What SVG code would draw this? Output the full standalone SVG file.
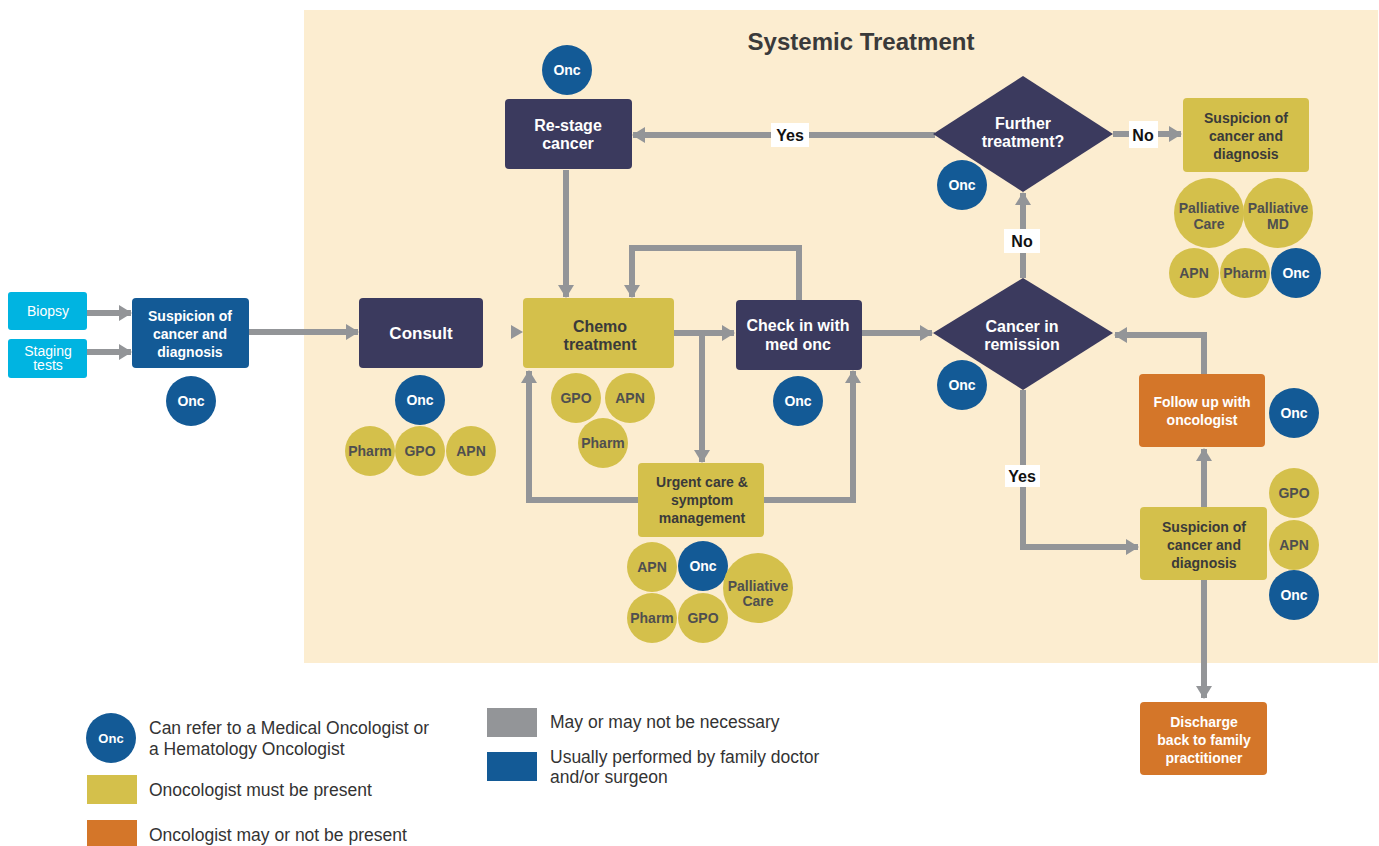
<svg xmlns="http://www.w3.org/2000/svg" width="1379" height="846" viewBox="0 0 1379 846">
<defs>
<style>
.bg{fill:#fcedd0}
.navy{fill:#3b3a5e}
.blue{fill:#135a96}
.yel{fill:#d4c04b}
.org{fill:#d47629}
.cyan{fill:#00b4e1}
.gray{fill:#939598}
.conn{fill:none;stroke:#939598;stroke-width:6;marker-end:url(#ah)}
.t{font-family:"Liberation Sans",Arial,sans-serif;font-weight:bold;text-anchor:middle}
.n{font-weight:normal}
.w{fill:#ffffff}
.d{fill:#3a3a3a}
.c{fill:#4f4f4f}
.lab{fill:#ffffff}
.leg{font-family:"Liberation Sans",Arial,sans-serif;font-size:17.5px;fill:#333333}
</style>
<marker id="ah" markerUnits="userSpaceOnUse" markerWidth="13" markerHeight="16" viewBox="0 0 13 16" refX="12" refY="8" orient="auto">
<path d="M0,0 L13,8 L0,16 Z" fill="#939598"/>
</marker>
</defs>
<rect width="1379" height="846" fill="#ffffff"/>
<rect class="bg" x="304" y="10" width="1074" height="653"/>
<text class="t" x="861" y="50" font-size="24" fill="#3a3a3a">Systemic Treatment</text>

<g id="connectors">
<path class="conn" d="M87,313 H131"/>
<path class="conn" d="M87,352 H131"/>
<path class="conn" d="M249,332 H358"/>
<polygon points="511,325 523,332 511,339" fill="#939598"/>
<path class="conn" d="M674,333 H734"/>
<path class="conn" d="M702,333 V462"/>
<path class="conn" d="M638,500 H529 V371"/>
<path class="conn" d="M764,500 H853 V371"/>
<path class="conn" d="M799,300 V248 H632 V297"/>
<path class="conn" d="M566,170 V297"/>
<path class="conn" d="M935,135 H633"/>
<path class="conn" d="M1113,134 H1181"/>
<path class="conn" d="M1023,278 V193"/>
<path class="conn" d="M862,333 H932"/>
<path class="conn" d="M1023,390 V547 H1138"/>
<path class="conn" d="M1204,374 V335 H1115"/>
<path class="conn" d="M1204,507 V449"/>
<path class="conn" d="M1204,580 V698"/>
<rect class="lab" x="771" y="123" width="38" height="24"/>
<text class="t" x="790" y="141" font-size="16" fill="#111">Yes</text>
<rect class="lab" x="1129" y="121" width="29" height="27"/>
<text class="t" x="1143" y="141" font-size="16" fill="#111">No</text>
<rect class="lab" x="1004" y="229" width="36" height="24"/>
<text class="t" x="1022" y="247" font-size="16" fill="#111">No</text>
<rect class="lab" x="1005" y="465" width="35" height="22"/>
<text class="t" x="1022" y="482" font-size="16" fill="#111">Yes</text>
</g>

<g id="biopsy">
<rect class="cyan" x="8" y="292" width="79" height="38" rx="3"/>
<text class="t n w" x="48" y="316" font-size="14">Biopsy</text>
</g>
<g id="staging">
<rect class="cyan" x="8" y="339" width="79" height="39" rx="3"/>
<text class="t n w" x="48" y="356" font-size="14">Staging</text>
<text class="t n w" x="48" y="370" font-size="14">tests</text>
</g>
<g id="suspicion1">
<rect class="blue" x="132" y="298" width="117" height="70" rx="4"/>
<text class="t w" x="190" y="321" font-size="14">Suspicion of</text>
<text class="t w" x="190" y="339" font-size="14">cancer and</text>
<text class="t w" x="190" y="357" font-size="14">diagnosis</text>
<circle class="blue" cx="191" cy="401" r="25"/>
<text class="t w" x="191" y="406" font-size="14">Onc</text>
</g>
<g id="consult">
<rect class="navy" x="359" y="298" width="124" height="70" rx="4"/>
<text class="t w" x="421" y="339" font-size="17">Consult</text>
<circle class="blue" cx="420" cy="400" r="25"/>
<text class="t w" x="420" y="405" font-size="14">Onc</text>
<circle class="yel" cx="370" cy="451" r="25"/>
<text class="t c" x="370" y="456" font-size="14">Pharm</text>
<circle class="yel" cx="420" cy="451" r="25"/>
<text class="t c" x="420" y="456" font-size="14">GPO</text>
<circle class="yel" cx="471" cy="451" r="25"/>
<text class="t c" x="471" y="456" font-size="14">APN</text>
</g>
<g id="chemo">
<rect class="yel" x="523" y="298" width="151" height="70" rx="4"/>
<text class="t d" x="600" y="332" font-size="16">Chemo</text>
<text class="t d" x="600" y="350" font-size="16">treatment</text>
<circle class="yel" cx="576" cy="398" r="25"/>
<text class="t c" x="576" y="403" font-size="14">GPO</text>
<circle class="yel" cx="630" cy="398" r="25"/>
<text class="t c" x="630" y="403" font-size="14">APN</text>
<circle class="yel" cx="603" cy="443" r="25"/>
<text class="t c" x="603" y="448" font-size="14">Pharm</text>
</g>
<g id="checkin">
<rect class="navy" x="736" y="300" width="126" height="70" rx="4"/>
<text class="t w" x="798" y="331" font-size="16">Check in with</text>
<text class="t w" x="798" y="350" font-size="16">med onc</text>
<circle class="blue" cx="798" cy="401" r="25"/>
<text class="t w" x="798" y="406" font-size="14">Onc</text>
</g>
<g id="urgent">
<rect class="yel" x="638" y="463" width="126" height="74" rx="4"/>
<text class="t d" x="702" y="487" font-size="14">Urgent care &amp;</text>
<text class="t d" x="702" y="505" font-size="14">symptom</text>
<text class="t d" x="702" y="523" font-size="14">management</text>
<circle class="yel" cx="652" cy="567" r="25"/>
<text class="t c" x="652" y="572" font-size="14">APN</text>
<circle class="blue" cx="703" cy="566" r="25"/>
<text class="t w" x="703" y="571" font-size="14">Onc</text>
<circle class="yel" cx="652" cy="618" r="25"/>
<text class="t c" x="652" y="623" font-size="14">Pharm</text>
<circle class="yel" cx="703" cy="618" r="25"/>
<text class="t c" x="703" y="623" font-size="14">GPO</text>
<circle class="yel" cx="758" cy="588" r="35"/>
<text class="t c" x="758" y="591" font-size="14">Palliative</text>
<text class="t c" x="758" y="606" font-size="14">Care</text>
</g>
<g id="restage">
<rect class="navy" x="505" y="99" width="127" height="70" rx="4"/>
<text class="t w" x="568" y="131" font-size="16">Re-stage</text>
<text class="t w" x="568" y="149" font-size="16">cancer</text>
<circle class="blue" cx="567" cy="70" r="25"/>
<text class="t w" x="567" y="75" font-size="14">Onc</text>
</g>
<g id="further">
<polygon class="navy" points="1023,76 1113,134 1023,192 933,134"/>
<text class="t w" x="1023" y="129" font-size="16">Further</text>
<text class="t w" x="1023" y="147" font-size="16">treatment?</text>
<circle class="blue" cx="962" cy="185" r="25"/>
<text class="t w" x="962" y="190" font-size="14">Onc</text>
</g>
<g id="suspicion-palliative">
<rect class="yel" x="1183" y="98" width="126" height="74" rx="4"/>
<text class="t d" x="1246" y="123" font-size="14">Suspicion of</text>
<text class="t d" x="1246" y="141" font-size="14">cancer and</text>
<text class="t d" x="1246" y="159" font-size="14">diagnosis</text>
<circle class="yel" cx="1209" cy="213" r="35"/>
<text class="t c" x="1209" y="213" font-size="14">Palliative</text>
<text class="t c" x="1209" y="229" font-size="14">Care</text>
<circle class="yel" cx="1278" cy="213" r="35"/>
<text class="t c" x="1278" y="213" font-size="14">Palliative</text>
<text class="t c" x="1278" y="229" font-size="14">MD</text>
<circle class="yel" cx="1194" cy="273" r="25"/>
<text class="t c" x="1194" y="278" font-size="14">APN</text>
<circle class="yel" cx="1245" cy="273" r="25"/>
<text class="t c" x="1245" y="278" font-size="14">Pharm</text>
<circle class="blue" cx="1296" cy="273" r="25"/>
<text class="t w" x="1296" y="278" font-size="14">Onc</text>
</g>
<g id="remission">
<polygon class="navy" points="1023,278 1113,333 1023,390 933,333"/>
<text class="t w" x="1022" y="332" font-size="16">Cancer in</text>
<text class="t w" x="1022" y="350" font-size="16">remission</text>
<circle class="blue" cx="962" cy="385" r="25"/>
<text class="t w" x="962" y="390" font-size="14">Onc</text>
</g>
<g id="followup">
<rect class="org" x="1139" y="374" width="126" height="73" rx="4"/>
<text class="t w" x="1202" y="407" font-size="14">Follow up with</text>
<text class="t w" x="1202" y="425" font-size="14">oncologist</text>
<circle class="blue" cx="1294" cy="413" r="25"/>
<text class="t w" x="1294" y="418" font-size="14">Onc</text>
</g>
<g id="suspicion3">
<rect class="yel" x="1140" y="507" width="127" height="73" rx="4"/>
<text class="t d" x="1204" y="532" font-size="14">Suspicion of</text>
<text class="t d" x="1204" y="550" font-size="14">cancer and</text>
<text class="t d" x="1204" y="568" font-size="14">diagnosis</text>
<circle class="yel" cx="1294" cy="493" r="25"/>
<text class="t c" x="1294" y="498" font-size="14">GPO</text>
<circle class="yel" cx="1294" cy="545" r="25"/>
<text class="t c" x="1294" y="550" font-size="14">APN</text>
<circle class="blue" cx="1294" cy="595" r="25"/>
<text class="t w" x="1294" y="600" font-size="14">Onc</text>
</g>
<g id="discharge">
<rect class="org" x="1140" y="702" width="127" height="73" rx="4"/>
<text class="t w" x="1204" y="727" font-size="14">Discharge</text>
<text class="t w" x="1204" y="745" font-size="14">back to family</text>
<text class="t w" x="1204" y="763" font-size="14">practitioner</text>
</g>

<g id="legend">
<circle class="blue" cx="111" cy="738" r="25"/>
<text class="t w" x="111" y="743" font-size="13">Onc</text>
<text class="leg" x="149" y="734">Can refer to a Medical Oncologist or</text>
<text class="leg" x="149" y="755">a Hematology Oncologist</text>
<rect class="yel" x="87" y="775" width="50" height="29"/>
<text class="leg" x="149" y="796">Onocologist must be present</text>
<rect class="org" x="87" y="820" width="50" height="26"/>
<text class="leg" x="149" y="841">Oncologist may or not be present</text>
<rect class="gray" x="487" y="708" width="50" height="29"/>
<text class="leg" x="550" y="728">May or may not be necessary</text>
<rect class="blue" x="487" y="752" width="50" height="29"/>
<text class="leg" x="550" y="763">Usually performed by family doctor</text>
<text class="leg" x="550" y="783">and/or surgeon</text>
</g>
</svg>
